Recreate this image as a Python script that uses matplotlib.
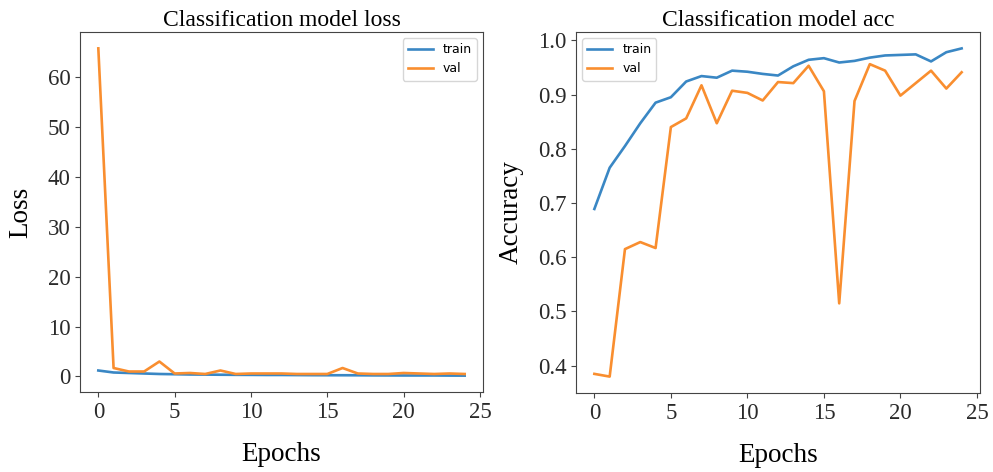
import matplotlib
matplotlib.use("Agg")
import matplotlib.pyplot as plt

epochs = list(range(25))
train_loss = [1.2, 0.8, 0.7, 0.6, 0.5, 0.45, 0.4, 0.38, 0.35, 0.33, 0.32, 0.3, 0.3, 0.28, 0.26, 0.25, 0.25, 0.24, 0.22, 0.21, 0.2, 0.2, 0.2, 0.18, 0.17]
val_loss = [65.8, 1.7, 1.0, 1.0, 3.0, 0.6, 0.7, 0.5, 1.2, 0.5, 0.6, 0.6, 0.6, 0.5, 0.5, 0.5, 1.7, 0.6, 0.5, 0.5, 0.7, 0.6, 0.5, 0.6, 0.5]
train_acc = [0.689, 0.765, 0.805, 0.847, 0.885, 0.895, 0.924, 0.934, 0.931, 0.944, 0.942, 0.938, 0.935, 0.952, 0.964, 0.967, 0.959, 0.962, 0.968, 0.972, 0.973, 0.974, 0.961, 0.978, 0.985]
val_acc = [0.385, 0.380, 0.615, 0.628, 0.617, 0.840, 0.856, 0.917, 0.847, 0.907, 0.903, 0.889, 0.923, 0.921, 0.953, 0.906, 0.515, 0.888, 0.956, 0.944, 0.898, 0.921, 0.944, 0.911, 0.941]

serif = ["Liberation Serif", "DejaVu Serif"]
blue = "#3a87c4"
orange = "#f98e2f"
fig = plt.figure(figsize=(9.93, 4.72), dpi=100)
ax1 = fig.add_axes([80/993, 80/472, 403/993, 360/472])
ax2 = fig.add_axes([576/993, 79/472, 404/993, 361/472])

def style(ax, title, ylabel):
    ax.set_title(title, fontsize=17, family=serif, pad=4)
    ax.set_xlabel("Epochs", fontsize=19.5, family=serif, labelpad=14)
    ax.set_ylabel(ylabel, fontsize=19.5, family=serif, labelpad=10)
    for lab in ax.get_xticklabels() + ax.get_yticklabels():
        lab.set_family(serif)
        lab.set_fontsize(16.5)
        lab.set_color("#2a2a2a")
    for s in ax.spines.values():
        s.set_color("#444444")
    ax.tick_params(colors="#444444", labelcolor="#2a2a2a")

ax1.plot(epochs, train_loss, color=blue, lw=1.9, label="train")
ax1.plot(epochs, val_loss, color=orange, lw=1.9, label="val")
ax1.set_xticks([0, 5, 10, 15, 20, 25])
ax1.set_yticks([0, 10, 20, 30, 40, 50, 60])
style(ax1, "Classification model loss", "Loss")
ax1.legend(loc="upper right", fontsize=9)

ax2.plot(epochs, train_acc, color=blue, lw=1.9, label="train")
ax2.plot(epochs, val_acc, color=orange, lw=1.9, label="val")
ax2.set_xticks([0, 5, 10, 15, 20, 25])
ax2.set_yticks([0.4, 0.5, 0.6, 0.7, 0.8, 0.9, 1.0])
ax2.set_yticklabels(["0.4", "0.5", "0.6", "0.7", "0.8", "0.9", "1.0"])
style(ax2, "Classification model acc", "Accuracy")
ax2.legend(loc="upper left", fontsize=9)

fig.savefig("out.png", dpi=100)
